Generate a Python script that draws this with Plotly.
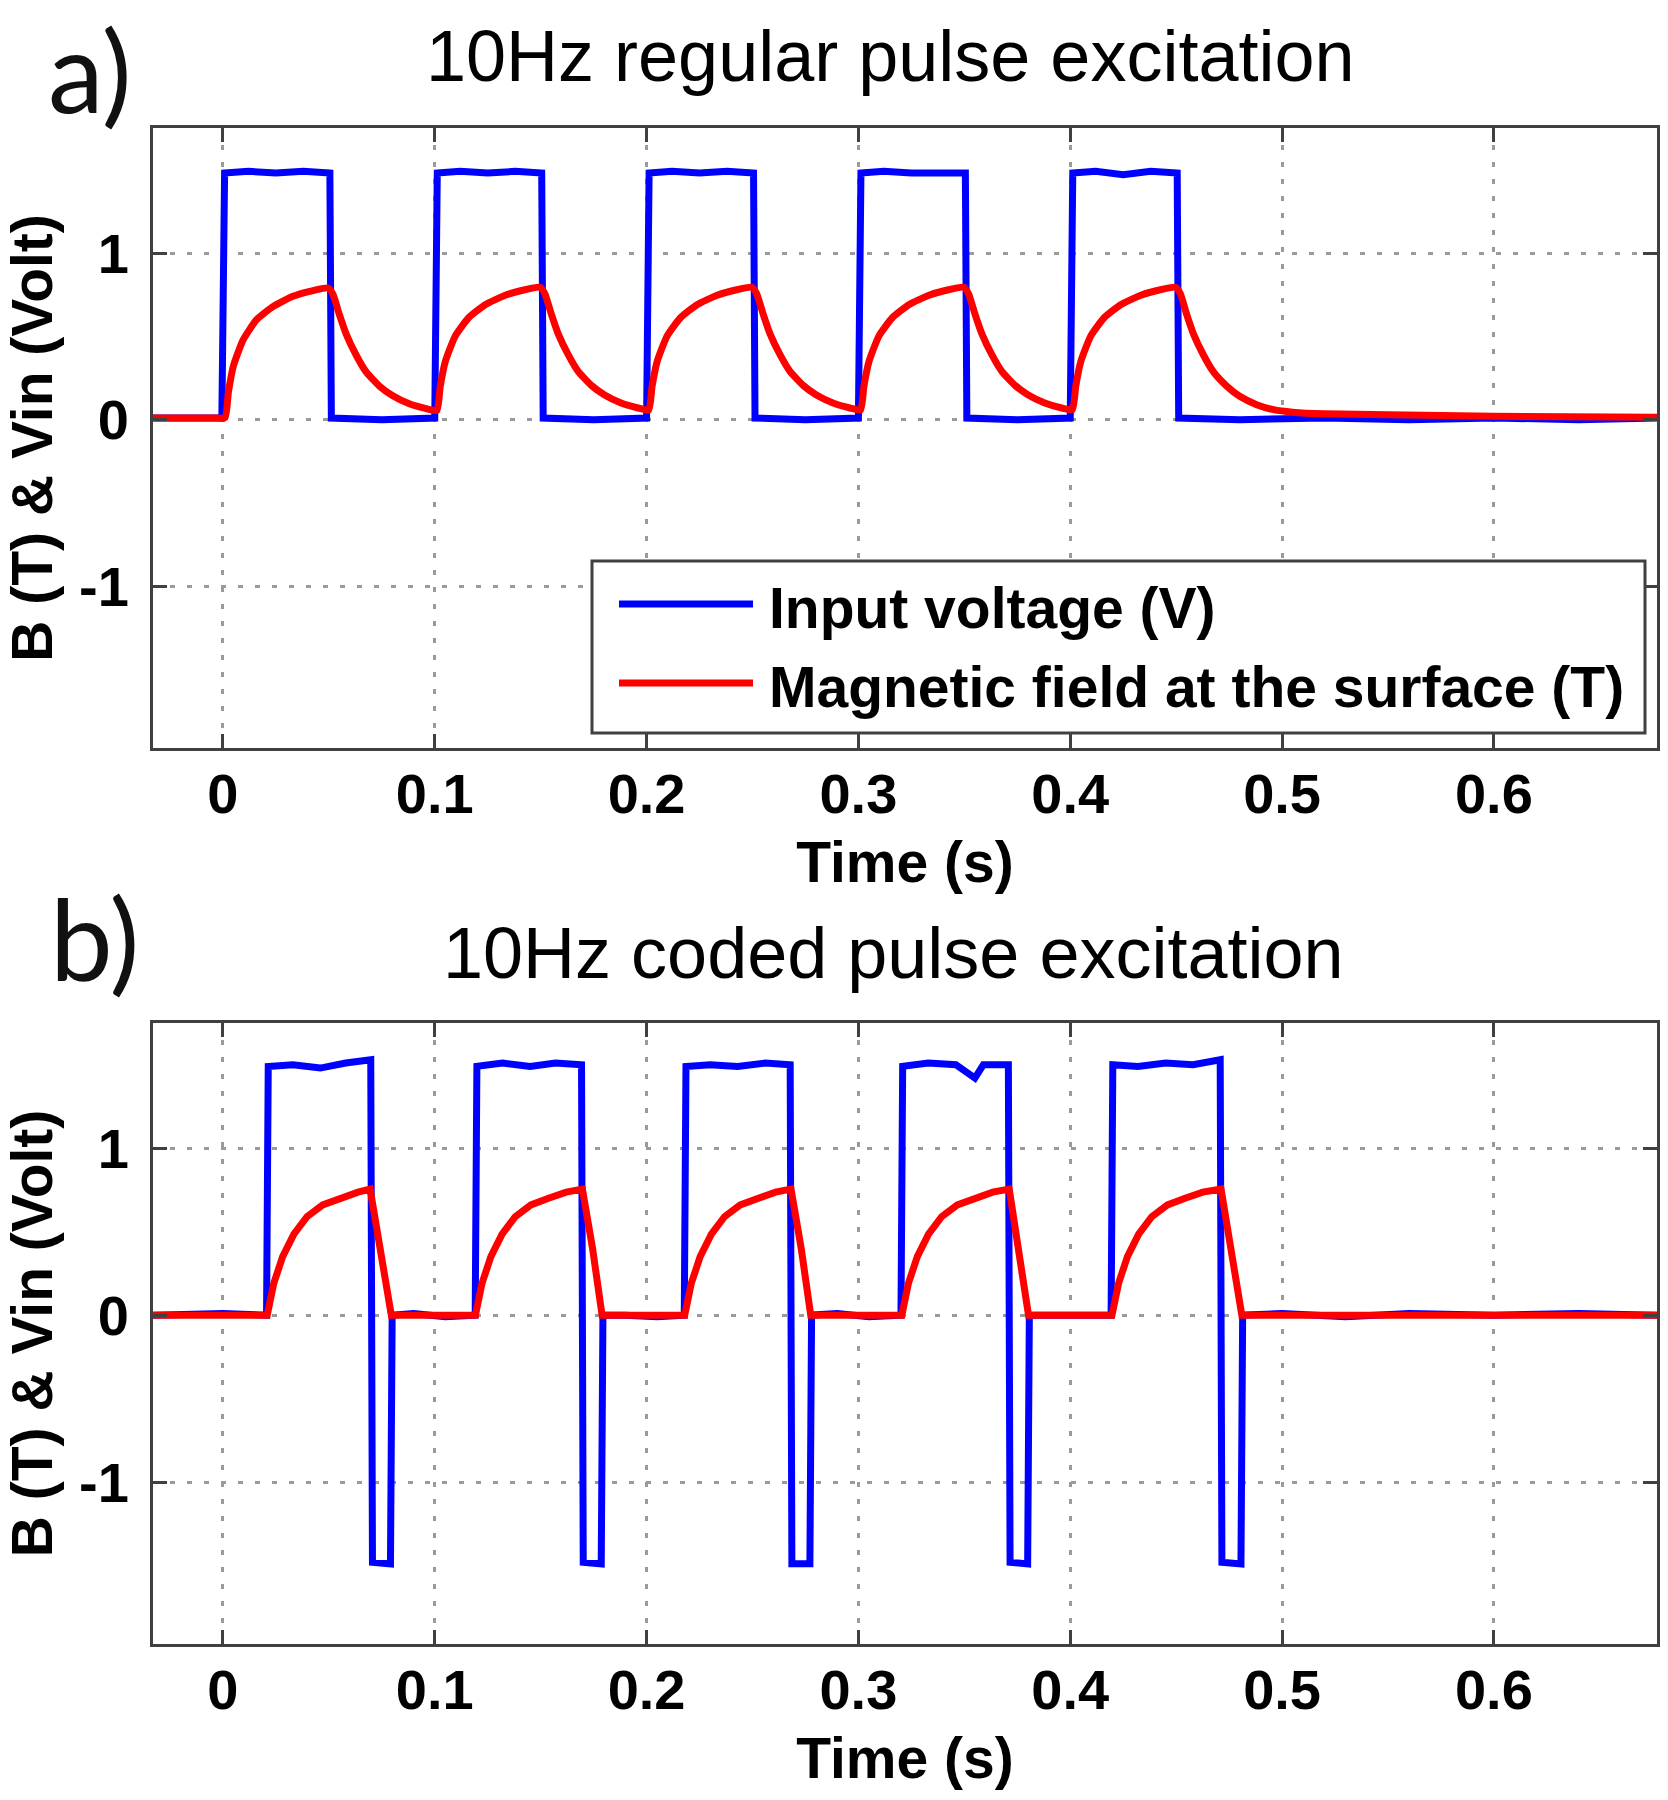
import plotly.graph_objects as go

# ---------------- data ----------------
# Panel a) regular pulses
t_vin_a = [-0.033, -0.0005, 0.0008, 0.012, 0.025, 0.038, 0.0505, 0.0512, 0.075, 0.1000, 0.1012, 0.112, 0.125, 0.138,
           0.1505, 0.1512, 0.175, 0.2000, 0.2012, 0.212, 0.225, 0.238, 0.2505, 0.2512, 0.275, 0.3000, 0.3012, 0.312,
           0.325, 0.338, 0.3505, 0.3512, 0.375, 0.4000, 0.4012, 0.412, 0.425, 0.438, 0.4505, 0.4512, 0.48, 0.52,
           0.56, 0.60, 0.64, 0.677]
vin_a = [0.01, 0.01, 1.48, 1.49, 1.48, 1.49, 1.48, 0.01, 0.0, 0.01, 1.48, 1.49, 1.48, 1.49,
         1.48, 0.01, 0.0, 0.01, 1.48, 1.49, 1.48, 1.49, 1.48, 0.01, 0.0, 0.01, 1.48, 1.49,
         1.48, 1.48, 1.48, 0.01, 0.0, 0.01, 1.48, 1.49, 1.47, 1.49, 1.48, 0.01, 0.0, 0.01,
         0.0, 0.01, 0.0, 0.01]

t_b_a = [-0.033, -0.015, -0.003,
         0.001, 0.0026, 0.0049, 0.0096, 0.0159, 0.0238, 0.033, 0.041, 0.0498, 0.052, 0.055, 0.0583, 0.063, 0.0677, 0.074, 0.080, 0.088, 0.096,
         0.101, 0.1026, 0.1049, 0.1096, 0.1159, 0.1238, 0.133, 0.141, 0.1498, 0.152, 0.155, 0.1583, 0.163, 0.1677, 0.174, 0.180, 0.188, 0.196,
         0.201, 0.2026, 0.2049, 0.2096, 0.2159, 0.2238, 0.233, 0.241, 0.2498, 0.252, 0.255, 0.2583, 0.263, 0.2677, 0.274, 0.280, 0.288, 0.296,
         0.301, 0.3026, 0.3049, 0.3096, 0.3159, 0.3238, 0.333, 0.341, 0.3498, 0.352, 0.355, 0.3583, 0.363, 0.3677, 0.374, 0.380, 0.388, 0.396,
         0.401, 0.4026, 0.4049, 0.4096, 0.4159, 0.4238, 0.433, 0.441, 0.4498, 0.452, 0.455, 0.4583, 0.463, 0.4677, 0.474, 0.480, 0.488, 0.496,
         0.505, 0.52, 0.55, 0.60, 0.677]
b_a = [0.01, 0.01, 0.01,
       0.012, 0.165, 0.32, 0.48, 0.60, 0.68, 0.74, 0.77, 0.79, 0.75, 0.63, 0.51, 0.385, 0.285, 0.20, 0.145, 0.095, 0.066,
       0.055, 0.20, 0.345, 0.50, 0.61, 0.69, 0.745, 0.775, 0.795, 0.755, 0.635, 0.515, 0.39, 0.29, 0.205, 0.15, 0.10, 0.07,
       0.058, 0.20, 0.345, 0.50, 0.61, 0.69, 0.745, 0.775, 0.795, 0.755, 0.635, 0.515, 0.39, 0.29, 0.205, 0.15, 0.10, 0.07,
       0.058, 0.20, 0.345, 0.50, 0.61, 0.69, 0.745, 0.775, 0.795, 0.755, 0.635, 0.515, 0.39, 0.29, 0.205, 0.15, 0.10, 0.07,
       0.060, 0.20, 0.345, 0.50, 0.61, 0.69, 0.745, 0.775, 0.795, 0.755, 0.63, 0.51, 0.385, 0.285, 0.20, 0.14, 0.09, 0.06,
       0.045, 0.035, 0.03, 0.02, 0.015]

# Panel b) coded pulses
t_vin_b = [-0.033, 0.0, 0.0206, 0.0214, 0.033, 0.046, 0.058, 0.0698, 0.0706, 0.0791, 0.0799, 0.09, 0.105,
           0.1191, 0.1199, 0.132, 0.145, 0.157, 0.1693, 0.1701, 0.1786, 0.1794, 0.19, 0.205,
           0.2178, 0.2186, 0.230, 0.243, 0.256, 0.2678, 0.2686, 0.2771, 0.2779, 0.29, 0.305,
           0.3201, 0.3209, 0.333, 0.346, 0.355, 0.359, 0.3708, 0.3716, 0.3799, 0.3807, 0.39, 0.405,
           0.4193, 0.4201, 0.432, 0.445, 0.458, 0.4708, 0.4716, 0.4806, 0.4814, 0.50, 0.53, 0.56, 0.60, 0.64, 0.677]
vin_b = [0.0, 0.01, 0.0, 1.49, 1.50, 1.48, 1.51, 1.53, -1.48, -1.49, 0.0, 0.01, -0.01,
         0.0, 1.49, 1.51, 1.49, 1.51, 1.50, -1.48, -1.49, 0.0, 0.0, -0.01,
         0.0, 1.49, 1.50, 1.49, 1.51, 1.50, -1.49, -1.49, 0.0, 0.01, -0.01,
         0.0, 1.49, 1.51, 1.50, 1.42, 1.50, 1.50, -1.48, -1.49, 0.0, 0.0, 0.01,
         0.0, 1.50, 1.49, 1.51, 1.50, 1.53, -1.48, -1.49, 0.0, 0.01, -0.01, 0.01, 0.0, 0.01, 0.0]

t_b_b = [-0.033,
         0.0209, 0.024, 0.0282, 0.0335, 0.0397, 0.0471, 0.0554, 0.0638, 0.0695, 0.0745, 0.0795,
         0.1192, 0.1223, 0.1265, 0.1318, 0.1380, 0.1454, 0.1537, 0.1621, 0.1697, 0.1745, 0.1790,
         0.2180, 0.2211, 0.2253, 0.2306, 0.2368, 0.2442, 0.2525, 0.2609, 0.2682, 0.2730, 0.2775,
         0.3205, 0.3236, 0.3278, 0.3331, 0.3393, 0.3467, 0.3550, 0.3634, 0.3712, 0.3758, 0.3803,
         0.4197, 0.4228, 0.4270, 0.4323, 0.4385, 0.4459, 0.4542, 0.4626, 0.4712, 0.4760, 0.4810,
         0.55, 0.62, 0.677]
b_b = [0.0,
       0.0, 0.19, 0.35, 0.485, 0.59, 0.66, 0.70, 0.737, 0.755, 0.40, 0.0,
       0.0, 0.19, 0.35, 0.485, 0.59, 0.66, 0.70, 0.737, 0.755, 0.40, 0.0,
       0.0, 0.19, 0.35, 0.485, 0.59, 0.66, 0.70, 0.737, 0.755, 0.40, 0.0,
       0.0, 0.19, 0.35, 0.485, 0.59, 0.66, 0.70, 0.737, 0.755, 0.40, 0.0,
       0.0, 0.19, 0.35, 0.485, 0.59, 0.66, 0.70, 0.737, 0.755, 0.40, 0.0,
       0.0, 0.0, 0.0]

x_tickvals = [0, 0.1, 0.2, 0.3, 0.4, 0.5, 0.6]
x_ticktext = ["0", "0.1", "0.2", "0.3", "0.4", "0.5", "0.6"]
y_tickvals = [-1, 0, 1]
y_ticktext = ["-1", "0", "1"]

series_names = ["Input voltage (V)", "Magnetic field at the surface (T)"]
panel_titles = ["10Hz regular pulse excitation", "10Hz coded pulse excitation"]
panel_tags = ["a)", "b)"]

# ---------------- figure ----------------
W, H = 1668, 1800
FONT = "Liberation Sans, Arial, sans-serif"
BLUE, RED = "#0000FF", "#FF0000"
LW = 7

fig = go.Figure()
fig.add_trace(go.Scatter(x=t_vin_a, y=vin_a, mode="lines", name=series_names[0],
                         line=dict(color=BLUE, width=LW), xaxis="x", yaxis="y"))
fig.add_trace(go.Scatter(x=t_b_a, y=b_a, mode="lines", name=series_names[1],
                         line=dict(color=RED, width=LW, shape="spline", smoothing=0.5), xaxis="x", yaxis="y"))
fig.add_trace(go.Scatter(x=t_vin_b, y=vin_b, mode="lines", name=series_names[0],
                         line=dict(color=BLUE, width=LW), xaxis="x2", yaxis="y2"))
fig.add_trace(go.Scatter(x=t_b_b, y=b_b, mode="lines", name=series_names[1],
                         line=dict(color=RED, width=LW), xaxis="x2", yaxis="y2"))

def px_x(p):
    return p / W

def px_y(p):
    return 1 - p / H

AX_COL = "#404040"
common = dict(showline=True, linecolor=AX_COL, linewidth=3, mirror="ticks", ticks="inside",
              ticklen=14, tickwidth=3, tickcolor=AX_COL, showgrid=True, gridcolor="#9a9a9a",
              gridwidth=3, griddash="5px,12px", zeroline=False,
              tickfont=dict(family=FONT, size=56, color="black", weight="bold"))

xdom = [px_x(153), px_x(1657)]
xr = [-0.033, 0.677]
yr = [-1.97, 1.75]
title_font = dict(family=FONT, size=57, color="black", weight="bold")

fig.update_layout(
    width=W, height=H, margin=dict(l=0, r=0, t=0, b=0),
    paper_bgcolor="white", plot_bgcolor="white", showlegend=False,
    xaxis=dict(common, domain=xdom, range=xr, anchor="y", tickvals=x_tickvals, ticktext=x_ticktext,
               ticklabelstandoff=-5, title=dict(text="Time (s)", font=title_font, standoff=18)),
    yaxis=dict(common, domain=[px_y(748), px_y(128)], range=yr, anchor="x", tickvals=y_tickvals,
               ticktext=y_ticktext, ticklabelstandoff=10,
               title=dict(text="B (T) & Vin (Volt)", font=title_font, standoff=25)),
    xaxis2=dict(common, domain=xdom, range=xr, anchor="y2", tickvals=x_tickvals, ticktext=x_ticktext,
                ticklabelstandoff=-5, title=dict(text="Time (s)", font=title_font, standoff=18)),
    yaxis2=dict(common, domain=[px_y(1644), px_y(1023)], range=yr, anchor="x2", tickvals=y_tickvals,
                ticktext=y_ticktext, ticklabelstandoff=10,
                title=dict(text="B (T) & Vin (Volt)", font=title_font, standoff=25)),
)

# panel titles and tags
annotations = []
TAG_FONT = dict(family="Lato, Carlito, sans-serif", size=112, color="#111111")
annotations.append(dict(text=panel_titles[0], x=px_x(890), y=px_y(56), xref="paper", yref="paper",
                        xanchor="center", yanchor="middle", showarrow=False,
                        font=dict(family=FONT, size=72, color="black")))
annotations.append(dict(text=panel_tags[0], x=px_x(90), y=1.0, xref="paper", yref="paper",
                        xanchor="center", yanchor="top", showarrow=False, font=TAG_FONT))
annotations.append(dict(text=panel_titles[1], x=px_x(893), y=px_y(953), xref="paper", yref="paper",
                        xanchor="center", yanchor="middle", showarrow=False,
                        font=dict(family=FONT, size=72, color="black")))
annotations.append(dict(text=panel_tags[1], x=px_x(94), y=px_y(937), xref="paper", yref="paper",
                        xanchor="center", yanchor="middle", showarrow=False, font=TAG_FONT))

# custom legend in panel a)
shapes = [dict(type="rect", xref="paper", yref="paper", x0=px_x(592), x1=px_x(1645),
               y0=px_y(733), y1=px_y(561), line=dict(color=AX_COL, width=3), fillcolor="white", layer="above")]
for name, col, ly in [(series_names[0], BLUE, 604), (series_names[1], RED, 683)]:
    shapes.append(dict(type="line", xref="paper", yref="paper", x0=px_x(619), x1=px_x(753),
                       y0=px_y(ly), y1=px_y(ly), line=dict(color=col, width=LW), layer="above"))
    annotations.append(dict(text=name, x=px_x(767), y=px_y(ly + 4), xref="paper", yref="paper",
                            xanchor="left", yanchor="middle", showarrow=False,
                            font=dict(family=FONT, size=57, color="black", weight="bold")))

fig.update_layout(annotations=annotations, shapes=shapes)
fig.write_html("out.html", config={"displayModeBar": False},
               post_script="document.body.style.margin='0';")
